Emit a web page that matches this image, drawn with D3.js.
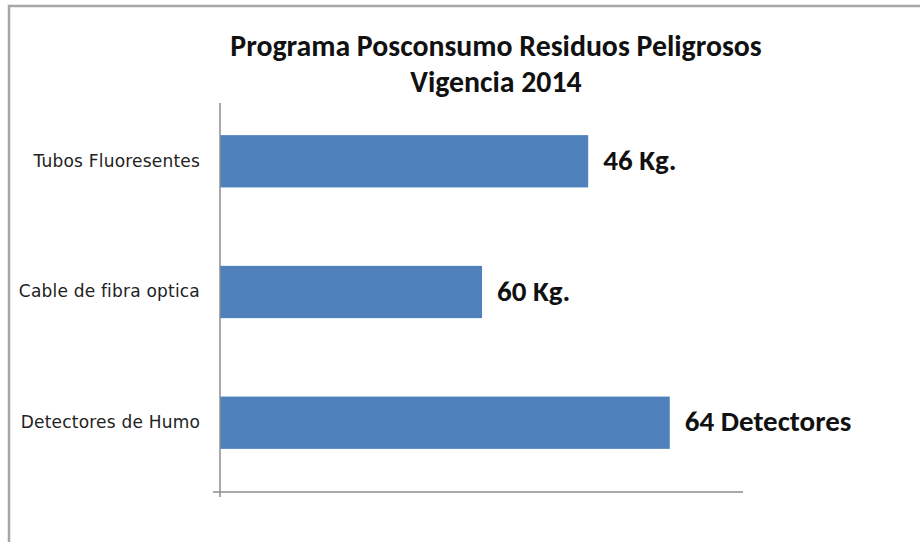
<!DOCTYPE html>
<html>
<head>
<meta charset="utf-8">
<script src="https://cdn.jsdelivr.net/npm/d3@7"></script>
<style>
    body { margin: 0; background: #fff; }
    svg { display: block; }
</style>
</head>
<body>
<div id="chart"></div>
<script>
    // Data
    const titleLines = ['Programa Posconsumo Residuos Peligrosos', 'Vigencia 2014'];
    const categories = ['Tubos Fluoresentes', 'Cable de fibra optica', 'Detectores de Humo'];
    // bar lengths as drawn (the axis shows no tick labels, so these are relative 0-100)
    const barValues = [70.4, 50.1, 86.0];
    const valueLabels = ['46 Kg.', '60 Kg.', '64 Detectores'];

    const width = 920, height = 542;
    const margin = {top: 103, right: 177, bottom: 50, left: 220};
    const font = "Carlito, Calibri, 'Open Sans', sans-serif";

    const svg = d3.select('#chart')
        .append('svg')
        .attr('width', width)
        .attr('height', height);

    // Outer frame (only top and left edges show in the crop)
    svg.append('path')
        .attr('d', `M9,${height} V6 H${width}`)
        .attr('fill', 'none')
        .attr('stroke', '#a6a6a6')
        .attr('stroke-width', 2.5);

    const plotBottom = height - margin.bottom;

    // Scales
    const x = d3.scaleLinear()
        .domain([0, 100])
        .range([margin.left, width - margin.right]);

    const y = d3.scaleBand()
        .domain(categories)
        .range([margin.top - 11, plotBottom])
        .paddingInner(0.6)
        .paddingOuter(0.33);

    // Title
    svg.append('text')
        .attr('text-anchor', 'middle')
        .attr('font-family', font)
        .attr('font-weight', 'bold')
        .attr('font-size', '29.8px')
        .attr('fill', '#111')
        .selectAll('tspan')
        .data(titleLines)
        .enter()
        .append('tspan')
        .attr('x', 496)
        .attr('y', (d, i) => 56 + i * 36)
        .text(d => d);

    // Bars
    svg.selectAll('.bar')
        .data(categories)
        .enter()
        .append('rect')
        .attr('class', 'bar')
        .attr('x', x(0))
        .attr('y', d => y(d))
        .attr('width', (d, i) => x(barValues[i]) - x(0))
        .attr('height', y.bandwidth())
        .attr('fill', '#4f81bd');

    // Value labels
    svg.selectAll('.value-label')
        .data(categories)
        .enter()
        .append('text')
        .attr('class', 'value-label')
        .attr('x', (d, i) => x(barValues[i]) + 15)
        .attr('y', d => y(d) + y.bandwidth() / 2)
        .attr('dy', '0.3em')
        .attr('font-family', font)
        .attr('font-weight', 'bold')
        .attr('font-size', '29px')
        .attr('fill', '#111')
        .text((d, i) => valueLabels[i]);

    // Category axis
    svg.append('g')
        .attr('transform', `translate(${margin.left},0)`)
        .call(d3.axisLeft(y).tickSize(0).tickPadding(20))
        .call(g => g.select('.domain').remove())
        .call(g => g.selectAll('text')
            .attr('font-family', "'DejaVu Sans', sans-serif")
            .attr('font-size', '17px')
            .attr('letter-spacing', '0.2px')
            .attr('fill', '#222'));

    // Axis lines with the little corner ticks
    svg.append('line')
        .attr('x1', x(0)).attr('x2', x(0))
        .attr('y1', margin.top).attr('y2', plotBottom + 5)
        .attr('stroke', '#8c8c8c').attr('stroke-width', 1.5);
    svg.append('line')
        .attr('x1', x(0) - 7).attr('x2', x.range()[1])
        .attr('y1', plotBottom).attr('y2', plotBottom)
        .attr('stroke', '#8c8c8c').attr('stroke-width', 1.5);
</script>
</body>
</html>
